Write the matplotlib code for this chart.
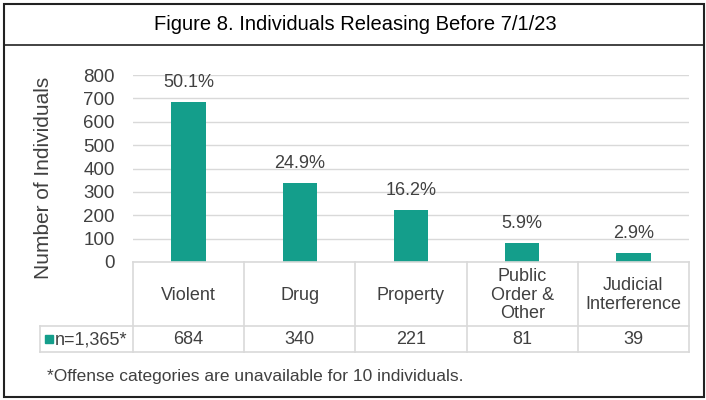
import matplotlib
matplotlib.use('Agg')
import matplotlib.pyplot as plt
import matplotlib.patches as mpatches

plt.rcParams['font.family'] = ['Liberation Sans', 'DejaVu Sans']

# data
categories = ["Violent", "Drug", "Property", "Public\nOrder &\nOther", "Judicial\nInterference"]
counts = [684, 340, 221, 81, 39]
pct_labels = ["50.1%", "24.9%", "16.2%", "5.9%", "2.9%"]
yticks = [0, 100, 200, 300, 400, 500, 600, 700, 800]
series_name = "n=1,365*"
title = "Figure 8. Individuals Releasing Before 7/1/23"
footnote = "*Offense categories are unavailable for 10 individuals."

BAR = '#149E8B'
TXT = '#404040'
GRID = '#D9D9D9'
W, H = 706, 400


def fx(x):
    return x / W


def fy(y):
    return 1 - y / H


fig = plt.figure(figsize=(W / 100, H / 100), dpi=100)
fig.patch.set_facecolor('white')

# outer frame and title divider
fig.add_artist(mpatches.Rectangle((fx(4), fy(397)), fx(700), 393 / H, fill=False,
                                  edgecolor='#222222', lw=1.5, transform=fig.transFigure))
fig.add_artist(plt.Line2D([fx(4), fx(704)], [fy(45), fy(45)], color='#222222', lw=1.2,
                          transform=fig.transFigure))
fig.text(fx(355), fy(25), title, ha='center', va='center', fontsize=14.5, color='black')

# chart area
x0, x1, ytop, y0 = 133, 689, 75, 262
ax = fig.add_axes([fx(x0), fy(y0), (x1 - x0) / W, (y0 - ytop) / H])
xs = list(range(len(categories)))
ax.bar(xs, counts, width=0.31, color=BAR, zorder=3)
ax.set_xlim(-0.5, len(categories) - 0.5)
ax.set_ylim(0, 800)
ax.set_yticks(yticks)
ax.set_yticklabels([str(v) for v in yticks], fontsize=13.5, color=TXT)
ax.tick_params(axis='y', length=0, pad=13)
ax.set_xticks([])
ax.grid(axis='y', color=GRID, lw=1, zorder=0)
for s in ax.spines.values():
    s.set_visible(False)
for xi, v, lab in zip(xs, counts, pct_labels):
    ax.annotate(lab, (xi, v), xytext=(0, 14), textcoords='offset points',
                ha='center', va='center', fontsize=13, color=TXT)

fig.text(fx(44), fy(178), "Number of Individuals", rotation=90, ha='center', va='center',
         fontsize=15, color=TXT)

# data table below chart
tleft, hdr_bot, tbot = 40, 326, 352
colw = (x1 - x0) / len(categories)
tax = fig.add_axes([0, 0, 1, 1])
tax.set_xlim(0, W)
tax.set_ylim(H, 0)
tax.axis('off')
tax.patch.set_alpha(0)

lc = dict(color=GRID, lw=1.2)
tax.plot([x0, x1], [y0, y0], **lc)
tax.plot([tleft, x1], [hdr_bot, hdr_bot], **lc)
tax.plot([tleft, x1], [tbot, tbot], **lc)
tax.plot([tleft, tleft], [hdr_bot, tbot], **lc)
for i in range(len(categories) + 1):
    tax.plot([x0 + i * colw] * 2, [y0, tbot], **lc)

for i, (cat, v) in enumerate(zip(categories, counts)):
    cx = x0 + (i + 0.5) * colw
    tax.text(cx, (y0 + hdr_bot) / 2 + 1, cat, ha='center', va='center', fontsize=13,
             color=TXT, linespacing=1.1)
    tax.text(cx, (hdr_bot + tbot) / 2 + 1, str(v), ha='center', va='center', fontsize=13,
             color=TXT)

tax.add_patch(mpatches.Rectangle((45, 335), 8, 8, color=BAR))
tax.text(55, (hdr_bot + tbot) / 2 + 1, series_name, ha='left', va='center', fontsize=13,
         color=TXT)

tax.text(47, 377, footnote, ha='left', va='center', fontsize=12.5, color=TXT)

fig.savefig('out.png', dpi=100, facecolor='white')
